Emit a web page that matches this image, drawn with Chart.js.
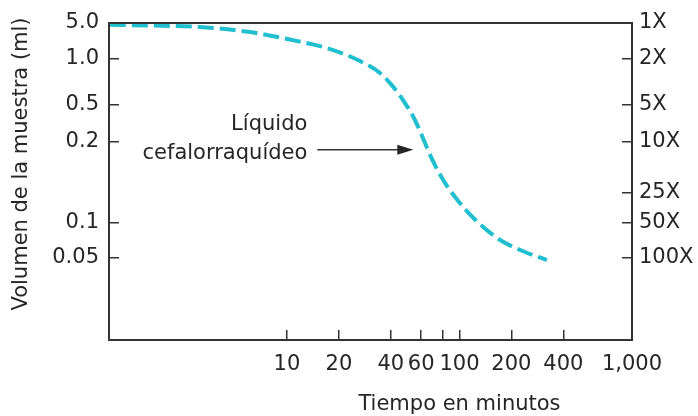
<!DOCTYPE html>
<html>
<head>
<meta charset="utf-8">
<script src="https://cdn.jsdelivr.net/npm/chart.js@4/dist/chart.umd.min.js"></script>
<style>
    body { margin: 0; background: #fff; }
    #wrap { width: 698px; height: 416px; position: relative; }
</style>
</head>
<body>
<div id="wrap"><canvas id="chart"></canvas></div>
<script>
// curve: time (min) and sample volume (ml)
const minutes = [0.94, 1.6, 3.1, 6.1, 10.4, 17.8, 26.5, 34.6, 42.3, 48.3, 53.7, 59.0, 64.9, 72.1, 82.4, 94.2, 123, 172, 240, 321]
const volumeMl = [4.6, 4.47, 4.18, 3.34, 2.39, 1.56, 0.970, 0.810, 0.636, 0.515, 0.381, 0.263, 0.190, 0.164, 0.141, 0.125, 0.103, 0.0714, 0.0563, 0.048]

const xTicks = [10, 20, 40, 60, 80, 100, 200, 400, 1000]
const xTickLabels = ['10', '20', '40', '60', '', '100', '200', '400', '1,000']

const leftTickMl = [5.0, 1.0, 0.5, 0.2, 0.1, 0.05]
const leftTickLabels = ['5.0', '1.0', '0.5', '0.2', '0.1', '0.05']

// dilution factors and the volume each one lines up with
const rightTickMl = [5.0, 1.0, 0.5, 0.2, 0.13, 0.1, 0.05]
const rightTickLabels = ['1X', '2X', '5X', '10X', '25X', '50X', '100X']

// the volume axis of the original is uneven: where each volume sits (0 = bottom, 1 = top)
const yStopsMl = [0.05, 0.1, 0.2, 0.5, 1.0, 5.0]
const yStopsFrac = [0.2587, 0.3691, 0.6246, 0.7413, 0.8864, 1.0]

const arrowTarget = { x: 54, y: 0.187 }

const textColor = '#262626'
const lineColor = '#333333'
const font = { family: '"DejaVu Sans", Verdana, sans-serif', size: 21 }

function toAxis(ml) {
    const lv = Math.log10(ml)
    let i = 0
    while (i < yStopsMl.length - 2 && lv > Math.log10(yStopsMl[i + 1])) i++
    const a = Math.log10(yStopsMl[i]), b = Math.log10(yStopsMl[i + 1])
    return yStopsFrac[i] + (lv - a) / (b - a) * (yStopsFrac[i + 1] - yStopsFrac[i])
}

const points = minutes.map((m, i) => ({ x: m, y: toAxis(volumeMl[i]) }))

const frame = {
    id: 'frame',
    afterDraw(chart) {
        const { ctx, chartArea: a, scales } = chart
        ctx.save()
        ctx.strokeStyle = lineColor
        ctx.lineWidth = 2
        ctx.strokeRect(a.left, a.top, a.right - a.left, a.bottom - a.top)

        ctx.fillStyle = textColor
        ctx.font = `${font.size}px ${font.family}`
        ctx.textBaseline = 'middle'

        // axis titles
        ctx.textAlign = 'center'
        const xMid = (scales.x.getPixelForValue(10) + scales.x.getPixelForValue(1000)) / 2
        ctx.fillText('Tiempo en minutos', xMid, a.bottom + 65)
        ctx.save()
        ctx.translate(22, a.top + 141)
        ctx.rotate(-Math.PI / 2)
        ctx.fillText('Volumen de la muestra (ml)', 0, 0)
        ctx.restore()

        // annotation with arrow
        const tx = scales.x.getPixelForValue(arrowTarget.x)
        const ty = scales.y.getPixelForValue(toAxis(arrowTarget.y))
        ctx.beginPath()
        ctx.lineWidth = 1.5
        ctx.moveTo(tx - 96, ty)
        ctx.lineTo(tx - 12, ty)
        ctx.stroke()
        ctx.beginPath()
        ctx.moveTo(tx, ty)
        ctx.lineTo(tx - 16, ty - 5)
        ctx.lineTo(tx - 16, ty + 5)
        ctx.closePath()
        ctx.fill()
        ctx.textAlign = 'right'
        ctx.fillText('Líquido', tx - 106, ty - 25)
        ctx.fillText('cefalorraquídeo', tx - 106, ty + 4)
        ctx.restore()
    }
}

const tickGrid = { drawOnChartArea: false, drawTicks: true, tickLength: -10, color: lineColor, lineWidth: 1.5 }

function fixSize(w, h) {
    return scale => {
        if (w) scale.width = w
        if (h) scale.height = h
        scale.paddingTop = 0
        scale.paddingBottom = 0
        scale.paddingLeft = 0
        scale.paddingRight = 0
    }
}

new Chart(document.getElementById('chart'), {
    type: 'line',
    data: {
        datasets: [{
            data: points,
            borderColor: '#1fbfcf',
            borderWidth: 4,
            borderDash: [16, 6],
            pointRadius: 0,
            fill: false,
            cubicInterpolationMode: 'monotone'
        }]
    },
    options: {
        responsive: true,
        maintainAspectRatio: false,
        animation: false,
        layout: { padding: { top: 23, left: 0, right: 0, bottom: 0 } },
        plugins: { legend: { display: false }, tooltip: { enabled: false } },
        scales: {
            x: {
                type: 'logarithmic',
                min: 0.93,
                max: 1000,
                grid: tickGrid,
                border: { display: false },
                afterBuildTicks: scale => { scale.ticks = xTicks.map(v => ({ value: v })) },
                afterFit: fixSize(0, 76),
                ticks: {
                    autoSkip: false,
                    maxRotation: 0,
                    padding: 22,
                    color: textColor,
                    font,
                    callback: (v, i) => xTickLabels[i]
                }
            },
            y: {
                type: 'linear',
                position: 'left',
                min: 0,
                max: 1,
                grid: tickGrid,
                border: { display: false },
                afterBuildTicks: scale => { scale.ticks = leftTickMl.map(v => ({ value: toAxis(v) })) },
                afterFit: fixSize(109, 0),
                ticks: {
                    autoSkip: false,
                    padding: 20,
                    color: textColor,
                    font,
                    callback: (v, i) => leftTickLabels[i]
                }
            },
            y2: {
                type: 'linear',
                position: 'right',
                min: 0,
                max: 1,
                grid: tickGrid,
                border: { display: false },
                afterBuildTicks: scale => { scale.ticks = rightTickMl.map(v => ({ value: toAxis(v) })) },
                afterFit: fixSize(66, 0),
                ticks: {
                    autoSkip: false,
                    padding: 17,
                    color: textColor,
                    font,
                    callback: (v, i) => rightTickLabels[i]
                }
            }
        }
    },
    plugins: [frame]
})
</script>
</body>
</html>
